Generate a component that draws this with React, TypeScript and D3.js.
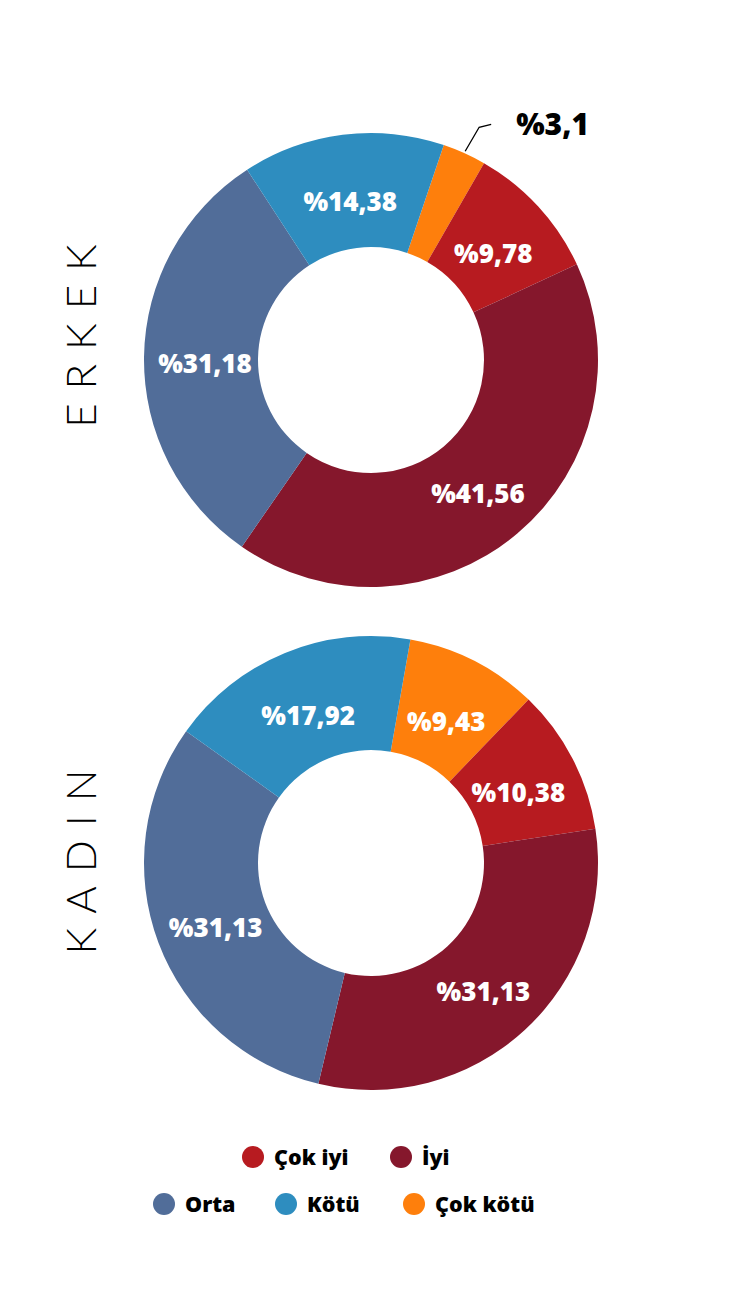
import React from "react";
import * as d3 from "d3";

const categories = ["Çok kötü", "Çok iyi", "İyi", "Orta", "Kötü"];
const erkekValues = [3.1, 9.78, 41.56, 31.18, 14.38];
const kadinValues = [9.43, 10.38, 31.13, 31.13, 17.92];
const erkekLabels = ["%3,1", "%9,78", "%41,56", "%31,18", "%14,38"];
const kadinLabels = ["%9,43", "%10,38", "%31,13", "%31,13", "%17,92"];
const colors: Record<string, string> = {
  "Çok kötü": "#FE7F0C",
  "Çok iyi": "#B71B20",
  "İyi": "#85172C",
  "Orta": "#516D99",
  "Kötü": "#2E8DBF",
};
const legendRow1 = ["Çok iyi", "İyi"];
const legendRow2 = ["Orta", "Kötü", "Çok kötü"];

const FONT = "'Open Sans', 'DejaVu Sans', sans-serif";

function Donut({ values, labels, cy, title, titleY, startDeg, outsideIdx }: any) {
  const cx = 371;
  const rOuter = 227;
  const rInner = 113;
  const start = (startDeg * Math.PI) / 180;
  const pie = d3
    .pie<number>()
    .sort(null)
    .value((d) => d)
    .startAngle(start)
    .endAngle(start + 2 * Math.PI);
  const arcs = pie(values);
  const arc = d3.arc<any>().innerRadius(rInner).outerRadius(rOuter);
  const labelArc = d3.arc<any>().innerRadius(166).outerRadius(166);
  return (
    <g>
      <text
        transform={`translate(96, ${titleY}) rotate(-90)`}
        textAnchor="middle"
        fontFamily="Lato, 'Open Sans', sans-serif"
        fontWeight={300}
        fontSize={42}
        letterSpacing={14}
        fill="#000"
      >
        {title}
      </text>
      <g transform={`translate(${cx}, ${cy})`}>
        {arcs.map((a, i) => (
          <path key={i} d={arc(a) as string} fill={colors[categories[i]]} />
        ))}
        {arcs.map((a, i) => {
          if (i === outsideIdx) {
            const mid = (a.startAngle + a.endAngle) / 2;
            const p0 = [Math.sin(mid) * (rOuter + 2), -Math.cos(mid) * (rOuter + 2)];
            const p1 = [p0[0] + 14, p0[1] - 24];
            const p2 = [p1[0] + 12, p1[1] - 3];
            return (
              <g key={i}>
                <polyline
                  points={`${p0[0]},${p0[1]} ${p1[0]},${p1[1]} ${p2[0]},${p2[1]}`}
                  fill="none"
                  stroke="#000"
                  strokeWidth={1.3}
                />
                <text
                  x={p2[0] + 25}
                  y={p2[1] + 11}
                  fontFamily={FONT}
                  fontWeight={800}
                  fontSize={30}
                  fill="#000"
                >
                  {labels[i]}
                </text>
              </g>
            );
          }
          const [x, y] = labelArc.centroid(a);
          return (
            <text
              key={i}
              x={x}
              y={y}
              dy="0.6em"
              textAnchor="middle"
              fontFamily={FONT}
              fontWeight={800}
              fontSize={26}
              fill="#fff"
            >
              {labels[i]}
            </text>
          );
        })}
      </g>
    </g>
  );
}

export default function App() {
  const legendItem = (name: string, x: number, y: number) => (
    <g key={name}>
      <circle cx={x} cy={y} r={11} fill={colors[name]} />
      <text
        x={x + 21}
        y={y}
        dy="0.36em"
        fontFamily={FONT}
        fontWeight={800}
        fontSize={21.5}
        fill="#000"
      >
        {name}
      </text>
    </g>
  );
  const row1X = [253, 401];
  const row2X = [164, 286, 414];
  return (
    <svg width={744} height={1303} style={{ display: "block", position: "absolute", left: 0, top: 0, background: "#fff" }}>
      <rect width={744} height={1303} fill="#fff" />
      <Donut values={erkekValues} labels={erkekLabels} cy={360} title="ERKEK" titleY={329} startDeg={18.7} outsideIdx={0} />
      <Donut values={kadinValues} labels={kadinLabels} cy={863} title="KADIN" titleY={855} startDeg={10} outsideIdx={-1} />
      {legendRow1.map((n, i) => legendItem(n, row1X[i], 1157))}
      {legendRow2.map((n, i) => legendItem(n, row2X[i], 1204))}
    </svg>
  );
}
